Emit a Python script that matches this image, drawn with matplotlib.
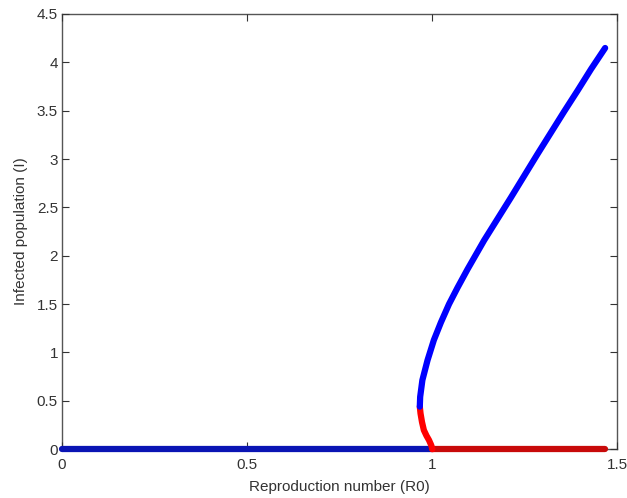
import matplotlib.pyplot as plt
import numpy as np

plt.rcParams['font.family'] = ['Liberation Sans Narrow', 'Liberation Sans', 'DejaVu Sans']

# upper (stable) endemic branch
r0_upper = [0.967, 0.968, 0.974, 0.988, 1.005, 1.024, 1.046, 1.069, 1.096, 1.123,
            1.141, 1.177, 1.213, 1.249, 1.285, 1.321, 1.357, 1.394, 1.430, 1.468]
i_upper = [0.44, 0.541, 0.714, 0.921, 1.128, 1.31, 1.50, 1.67, 1.86, 2.04,
           2.16, 2.38, 2.60, 2.825, 3.05, 3.27, 3.49, 3.71, 3.93, 4.148]

# lower (unstable) branch
r0_lower = [0.967, 0.969, 0.973, 0.978, 0.985, 0.992, 0.998, 1.001]
i_lower = [0.44, 0.369, 0.28, 0.197, 0.14, 0.093, 0.04, 0.0]

# disease free equilibrium
r0_dfe_stable = [0.0, 1.0]
r0_dfe_unstable = [1.0, 1.468]
i_dfe = [0.0, 0.0]

fig = plt.figure(figsize=(6.27, 4.98), dpi=100)
ax = fig.add_axes([0.099, 0.098, 0.885, 0.874])

style = dict(linewidth=4.5, solid_capstyle='round', solid_joinstyle='round', clip_on=False)
ax.plot(r0_dfe_stable, i_dfe, color='#0a14b4', zorder=2, **style)
ax.plot(r0_dfe_unstable, i_dfe, color='#c80a0a', zorder=2, **style)
ax.plot(r0_lower, i_lower, color='#ff0000', zorder=3, **style)
ax.plot(r0_upper, i_upper, color='#0000ff', zorder=3, **style)

ax.set_xlim(0, 1.5)
ax.set_ylim(0, 4.5)
ax.set_xticks([0, 0.5, 1, 1.5])
ax.set_xticklabels(['0', '0.5', '1', '1.5'])
ax.set_yticks(np.arange(0, 4.51, 0.5))
ax.set_yticklabels(['0', '0.5', '1', '1.5', '2', '2.5', '3', '3.5', '4', '4.5'])
ax.tick_params(direction='in', top=True, right=True, labelsize=11, length=5, colors='#333333')
ax.tick_params(axis='x', pad=6)
ax.tick_params(axis='y', pad=3)
for sp in ax.spines.values():
    sp.set_color('#555555')
    sp.set_linewidth(1.0)
    sp.set_zorder(1)

ax.set_xlabel('Reproduction number (R0)', fontsize=11, color='#333333', labelpad=6)
ax.set_ylabel('Infected population (I)', fontsize=11, color='#333333', labelpad=6)

fig.savefig('out.png', dpi=100)
